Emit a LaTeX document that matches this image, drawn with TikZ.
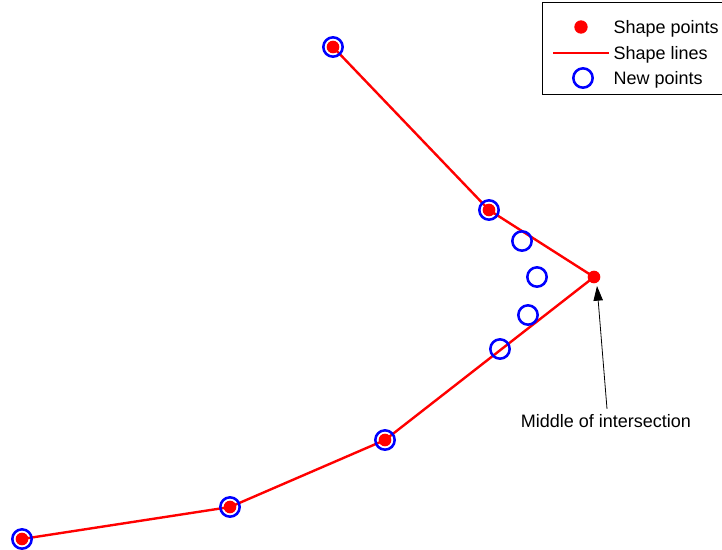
\documentclass[tikz,border=0pt]{standalone}
\usepackage{fontspec}
\setmainfont{Liberation Sans}
\usetikzlibrary{arrows.meta,positioning}

\begin{document}
\begin{tikzpicture}[x=0.75pt,y=-0.75pt,
  shapept/.style={circle,fill=red,inner sep=0pt,minimum size=9.5pt},
  newpt/.style={circle,draw=blue,line width=1.9pt,inner sep=0pt,minimum size=14.5pt},
  shapeline/.style={red,line width=1.8pt},
  lbl/.style={font=\fontsize{13.5}{16}\selectfont,inner sep=1pt}]
\useasboundingbox (0,0) rectangle (722,550);
% shape points
\foreach \n/\x/\y in {p1/333/47,p2/489/210,p3/594/277,p4/385/440,p5/230/507,p6/22/539}
  \coordinate (\n) at (\x,\y);
\draw[shapeline] (p1)--(p2)--(p3)--(p4)--(p5)--(p6);
\foreach \n in {p1,p2,p3,p4,p5,p6} \node[shapept] at (\n) {};
% new points
\foreach \x/\y in {333/47,489/210,522/241,537/277,528/315,500/349,385/440,230/507,22/539}
  \node[newpt] at (\x,\y) {};
% annotation
\node[lbl] (mid) at (606,421) {Middle of intersection};
\draw[-{Triangle[length=11pt,width=7pt]},line width=0.6pt] (mid.north)++(1,-4) coordinate (a0) -- (597,286);
% legend
\draw[line width=0.6pt] (542,2) rectangle (722,94);
\node[shapept,minimum size=10pt] (l1) at (581,27) {};
\node[lbl,anchor=west] at (612,29) {Shape points};
\coordinate (l2a) at (553,53); \coordinate (l2b) at (609,53);
\draw[shapeline] (l2a)--(l2b);
\node[lbl,anchor=west] at (612,55) {Shape lines};
\node[newpt] (l3) at (583,78) {};
\node[lbl,anchor=west] at (612,80) {New points};
\end{tikzpicture}
\end{document}
